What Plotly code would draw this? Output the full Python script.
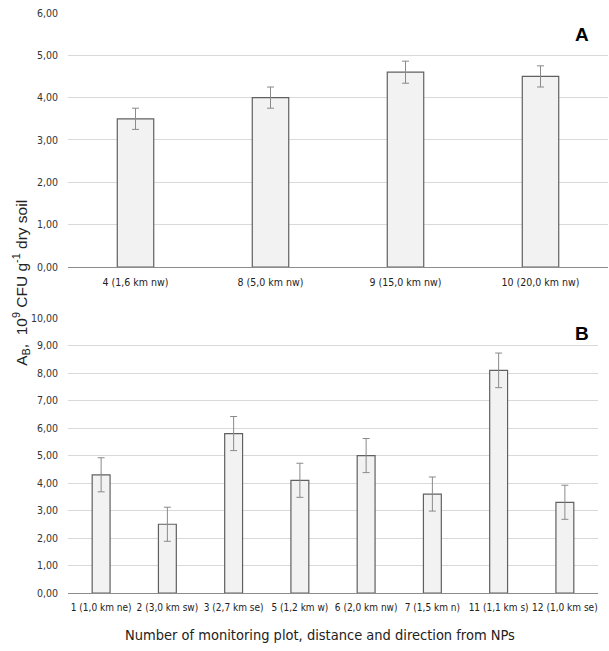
import plotly.graph_objects as go

W, H = 609, 651

cats_a = ["4 (1,6 km nw)", "8 (5,0 km nw)", "9 (15,0 km nw)", "10 (20,0 km nw)"]
vals_a = [3.5, 4.0, 4.6, 4.5]
err_a = [0.25, 0.25, 0.26, 0.25]

cats_b = ["1 (1,0 km ne)", "2 (3,0 km sw)", "3 (2,7 km se)", "5 (1,2 km w)",
          "6 (2,0 km nw)", "7 (1,5 km n)", "11 (1,1 km s)", "12 (1,0 km se)"]
vals_b = [4.3, 2.5, 5.8, 4.1, 5.0, 3.6, 8.1, 3.3]
err_b = [0.62, 0.62, 0.62, 0.62, 0.62, 0.62, 0.63, 0.62]

ticks_a = [0, 1, 2, 3, 4, 5, 6]
ticks_b = [0, 1, 2, 3, 4, 5, 6, 7, 8, 9, 10]

FONT = "DejaVu Sans Condensed, Liberation Sans Narrow, Roboto, sans-serif"
FILL = "#f2f2f2"
EDGE = "#606060"
ERR = "#8a8a8a"
GRID = "#d9d9d9"


def px_x(p):
    return p / W


def px_y(p):
    return 1 - p / H


fig = go.Figure()
fig.add_trace(go.Bar(
    x=cats_a, y=vals_a, width=0.27,
    marker=dict(color=FILL, line=dict(color=EDGE, width=1.2)),
    error_y=dict(type="data", array=err_a, color=ERR, thickness=1, width=3.5),
    xaxis="x", yaxis="y", showlegend=False, hoverinfo="x+y"))
fig.add_trace(go.Bar(
    x=cats_b, y=vals_b, width=0.27,
    marker=dict(color=FILL, line=dict(color=EDGE, width=1.2)),
    error_y=dict(type="data", array=err_b, color=ERR, thickness=1, width=3.5),
    xaxis="x2", yaxis="y2", showlegend=False, hoverinfo="x+y"))

common_y = dict(showgrid=True, gridcolor=GRID, gridwidth=1, zeroline=False,
                showline=False, ticks="", tickformat=".2f",
                tickfont=dict(family=FONT, size=10.5, color="#333"),
                ticklabelstandoff=9, fixedrange=True)


def xax(size):
    return dict(showgrid=False, showline=True, linecolor="#8c8c8c", linewidth=1,
                ticks="", tickangle=0, ticklabelstandoff=5,
                tickfont=dict(family=FONT, size=size, color="#222"),
                fixedrange=True)


fig.update_layout(
    width=W, height=H, autosize=False,
    margin=dict(l=0, r=0, t=0, b=0),
    paper_bgcolor="white", plot_bgcolor="white",
    separators=",.",
    xaxis=dict(domain=[px_x(68), px_x(608)], anchor="y", **xax(10.5)),
    yaxis=dict(domain=[px_y(266), px_y(7)], range=[0, 6], tickvals=ticks_a,
               anchor="x", **common_y),
    xaxis2=dict(domain=[px_x(68), px_x(598)], anchor="y2", **xax(10)),
    yaxis2=dict(domain=[px_y(598), px_y(318)], range=[0, 10], tickvals=ticks_b,
                anchor="x2", **common_y),
    annotations=[
        dict(text="<b>A</b>", x=px_x(582), y=px_y(29), xref="paper", yref="paper",
             xanchor="center", yanchor="middle",
             showarrow=False, font=dict(family="Liberation Sans, Arial", size=19, color="black")),
        dict(text="<b>B</b>", x=px_x(582), y=px_y(334), xref="paper", yref="paper",
             xanchor="center", yanchor="middle",
             showarrow=False, font=dict(family="Liberation Sans, Arial", size=19, color="black")),
        dict(text="A<sub>B</sub>,  10<sup>9</sup> CFU g<sup>-1</sup> dry soil",
             x=px_x(21), y=px_y(282), xref="paper", yref="paper", textangle=-90,
             xanchor="center", yanchor="middle",
             showarrow=False, font=dict(family="Liberation Sans, Arial", size=15.5, color="#222")),
        dict(text="Number of monitoring plot, distance and direction from NPs",
             x=px_x(320), y=px_y(641), xref="paper", yref="paper",
             xanchor="center", yanchor="middle",
             showarrow=False, font=dict(family=FONT, size=14.5, color="#222")),
    ],
)

fig.write_html(
    "out.html",
    config={"displayModeBar": False, "responsive": False},
    post_script="document.body.style.margin='0';document.body.style.overflow='hidden';",
)
